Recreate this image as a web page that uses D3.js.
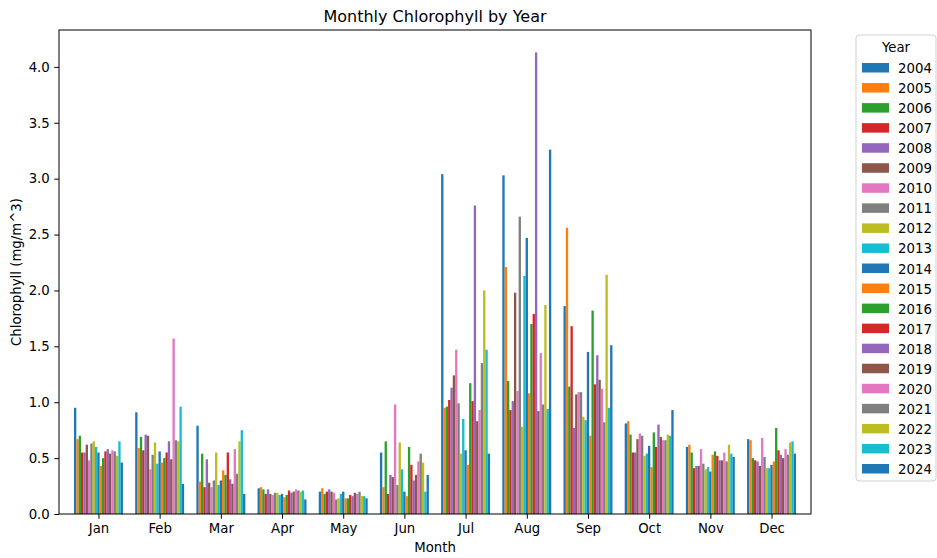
<!DOCTYPE html>
<html>
<head>
<meta charset="utf-8">
<script src="https://cdn.jsdelivr.net/npm/d3@7"></script>
<style>
  body { margin: 0; background: #fff; }
  svg { font-family: "DejaVu Sans", sans-serif; }
</style>
</head>
<body>
<svg id="chart" width="937" height="558"></svg>
<script>
// months and years
const months = ["Jan","Feb","Mar","Apr","May","Jun","Jul","Aug","Sep","Oct","Nov","Dec"];
const years = d3.range(2004, 2025);
const yTicks = [0, 0.5, 1.0, 1.5, 2.0, 2.5, 3.0, 3.5, 4.0];

// chlorophyll per month, one entry per year 2004..2024
const jan = [0.95,0.67,0.70,0.55,0.55,0.62,0.48,0.63,0.65,0.60,0.55,0.43,0.50,0.56,0.58,0.54,0.57,0.56,0.52,0.65,0.46];
const feb = [0.91,0.59,0.69,0.57,0.71,0.70,0.40,0.53,0.64,0.45,0.56,0.46,0.50,0.55,0.65,0.49,1.57,0.66,0.65,0.96,0.27];
const mar = [0.79,0.29,0.54,0.24,0.49,0.28,0.24,0.30,0.55,0.26,0.30,0.39,0.35,0.55,0.31,0.27,0.58,0.36,0.65,0.75,0.18];
const apr = [0.23,0.24,0.22,0.18,0.22,0.18,0.17,0.19,0.19,0.17,0.18,0.15,0.17,0.21,0.19,0.20,0.22,0.21,0.20,0.21,0.13];
const may = [0.20,0.23,0.18,0.20,0.22,0.20,0.19,0.13,0.14,0.18,0.20,0.14,0.14,0.17,0.16,0.19,0.18,0.20,0.16,0.16,0.14];
const jun = [0.55,0.24,0.65,0.18,0.35,0.33,0.98,0.26,0.64,0.40,0.20,0.16,0.60,0.44,0.30,0.35,0.47,0.54,0.46,0.20,0.35];
const jul = [3.04,0.95,0.96,1.02,1.13,1.24,1.47,0.99,0.54,0.85,0.57,0.44,1.17,1.01,2.76,0.83,0.93,1.35,2.00,1.47,0.54];
const aug = [3.03,2.21,1.19,0.93,1.01,1.98,1.10,2.66,0.78,2.13,2.47,1.08,1.70,1.79,4.13,0.92,1.44,0.98,1.87,0.94,3.26];
const sep = [1.86,2.56,1.14,1.68,0.77,1.07,1.09,1.09,0.87,0.84,1.45,0.70,1.82,1.16,1.42,1.20,1.12,0.82,2.14,0.95,1.51];
const oct = [0.81,0.83,0.71,0.55,0.55,0.67,0.72,0.70,0.52,0.54,0.61,0.42,0.73,0.60,0.80,0.69,0.66,0.66,0.71,0.70,0.93];
const nov = [0.60,0.62,0.55,0.41,0.43,0.43,0.58,0.45,0.40,0.42,0.38,0.53,0.56,0.52,0.48,0.48,0.55,0.47,0.62,0.54,0.51];
const dec = [0.67,0.66,0.50,0.48,0.47,0.43,0.68,0.51,0.41,0.41,0.44,0.47,0.77,0.57,0.53,0.50,0.58,0.53,0.64,0.65,0.54];
const monthValues = [jan,feb,mar,apr,may,jun,jul,aug,sep,oct,nov,dec];

const colors = ["#1f77b4","#ff7f0e","#2ca02c","#d62728","#9467bd","#8c564b","#e377c2","#7f7f7f","#bcbd22","#17becf"];

let svg = d3.select("#chart");
let plotLeft = 59, plotRight = 811, plotTop = 30, plotBottom = 514;
let fs = "13.3px";

let x = d3.scaleLinear().domain([-0.645, 11.645]).range([plotLeft, plotRight]);
let y = d3.scaleLinear().domain([0, 4.33]).range([plotBottom, plotTop]);
let barW = 0.8 / years.length;

// bars
let bars = [];
monthValues.forEach(function(vals, m) {
    vals.forEach(function(v, i) { bars.push({m: m, i: i, v: v}); });
});

svg.append("g").selectAll("rect")
    .data(bars)
    .enter()
    .append("rect")
        .attr("x", function(d) { return x(d.m - 0.4 + d.i * barW); })
        .attr("y", function(d) { return y(d.v); })
        .attr("width", x(barW) - x(0))
        .attr("height", function(d) { return plotBottom - y(d.v); })
        .style("fill", function(d) { return colors[d.i % 10]; });

// axes
let xAxis = svg.append("g")
    .attr("transform", "translate(0," + plotBottom + ")")
    .call(d3.axisBottom(x).tickValues(d3.range(12)).tickFormat(function(d) { return months[d]; })
        .tickSizeOuter(0).tickSize(4.7).tickPadding(4.5));
let yAxis = svg.append("g")
    .attr("transform", "translate(" + plotLeft + ",0)")
    .call(d3.axisLeft(y).tickValues(yTicks).tickFormat(d3.format(".1f"))
        .tickSizeOuter(0).tickSize(4.7).tickPadding(4.5));
[xAxis, yAxis].forEach(function(a) {
    a.select(".domain").remove();
    a.selectAll("text").attr("font-size", fs).attr("fill", "#000")
        .attr("font-family", "DejaVu Sans, sans-serif");
    a.selectAll("line").attr("stroke", "#000").attr("stroke-width", 1);
});

// frame
svg.append("rect")
    .attr("x", plotLeft).attr("y", plotTop)
    .attr("width", plotRight - plotLeft).attr("height", plotBottom - plotTop)
    .attr("fill", "none").attr("stroke", "#000").attr("stroke-width", 1);

// titles
svg.append("text")
    .attr("x", (plotLeft + plotRight) / 2).attr("y", 22)
    .attr("text-anchor", "middle").attr("font-size", "16px")
    .text("Monthly Chlorophyll by Year");
svg.append("text")
    .attr("x", (plotLeft + plotRight) / 2).attr("y", 552)
    .attr("text-anchor", "middle").attr("font-size", fs)
    .text("Month");
svg.append("text")
    .attr("transform", "rotate(-90)")
    .attr("x", -(plotTop + plotBottom) / 2).attr("y", 21)
    .attr("text-anchor", "middle").attr("font-size", fs)
    .text("Chlorophyll (mg/m^3)");

// legend
let lg = svg.append("g");
lg.append("rect")
    .attr("x", 856).attr("y", 35).attr("width", 80).attr("height", 446)
    .attr("rx", 3).attr("fill", "#fff").attr("stroke", "#d0d0d0").attr("stroke-width", 1);
lg.append("text")
    .attr("x", 896).attr("y", 52)
    .attr("text-anchor", "middle").attr("font-size", fs)
    .text("Year");
let ly = d3.scaleLinear().domain([0, 20]).range([68, 469]);
let items = lg.selectAll(".item")
    .data(years)
    .enter()
    .append("g")
        .attr("transform", function(d, i) { return "translate(0," + ly(i) + ")"; });
items.append("rect")
    .attr("x", 862).attr("y", -5).attr("width", 27).attr("height", 9.5)
    .style("fill", function(d, i) { return colors[i % 10]; });
items.append("text")
    .attr("x", 898).attr("y", 5)
    .attr("font-size", fs)
    .text(function(d) { return d; });
</script>
</body>
</html>
